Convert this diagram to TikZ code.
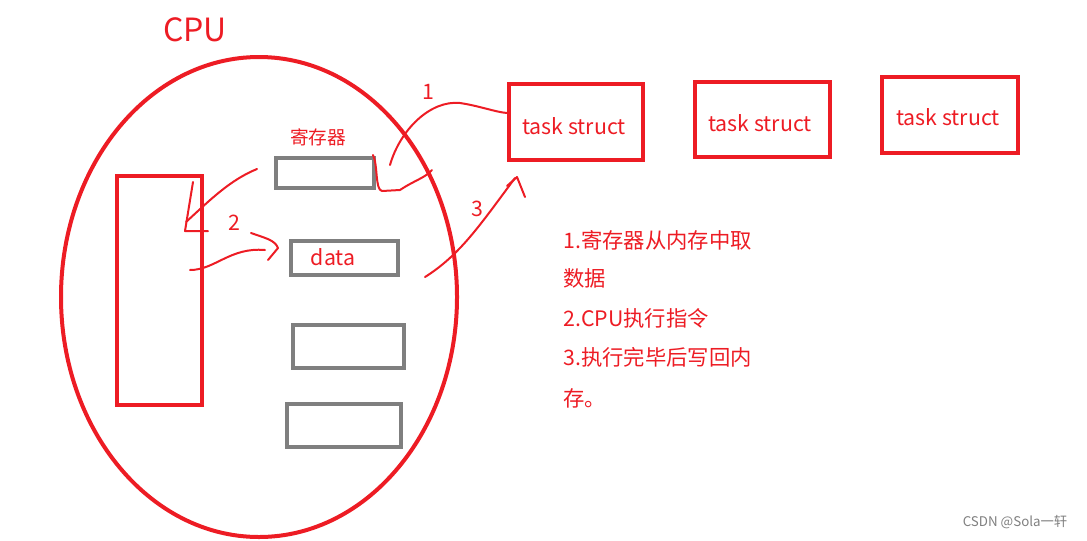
\documentclass[tikz,border=0pt]{standalone}
\usepackage{fontspec}
\setmainfont{Noto Sans CJK SC}
\definecolor{rd}{RGB}{237,28,36}
\definecolor{gy}{RGB}{127,127,127}
\begin{document}
\begin{tikzpicture}[x=0.75pt,y=-0.75pt,
  redbox/.style={draw=rd,line width=3pt},
  graybox/.style={draw=gy,line width=3pt},
  stroke/.style={draw=rd,line width=1.5pt,line cap=round,line join=round},
  lbl/.style={text=rd,font=\fontsize{16}{18}\selectfont,inner sep=0pt}]
\useasboundingbox (0,0) rectangle (1087,540);
\node[lbl,font=\fontsize{24}{26}\selectfont] (cpu) at (195,30) {CPU};
\draw[draw=rd,line width=3pt] (259,297) ellipse [x radius=198, y radius=240];
\node[redbox,minimum width=63.75pt,minimum height=171.75pt,anchor=north west,inner sep=0pt] (core) at (115,174) {};
\node[graybox,minimum width=73.5pt,minimum height=22.5pt,anchor=north west,inner sep=0pt] (r1) at (274,156) {};
\node[graybox,minimum width=80.25pt,minimum height=25.5pt,anchor=north west,inner sep=0pt] (r2) at (289,239) {};
\node[lbl] at (333,257) {data};
\node[graybox,minimum width=83.25pt,minimum height=32.25pt,anchor=north west,inner sep=0pt] (r3) at (291,323) {};
\node[graybox,minimum width=85.5pt,minimum height=32.25pt,anchor=north west,inner sep=0pt] (r4) at (285,402) {};
\node[lbl,font=\fontsize{14}{16}\selectfont] (reg) at (318,137) {寄存器};
\node[redbox,minimum width=100.5pt,minimum height=57pt,anchor=north west,inner sep=0pt] (t1) at (507,82) {};
\node[lbl] at (574,126) {task\ struct};
\node[redbox,minimum width=101.25pt,minimum height=56.25pt,anchor=north west,inner sep=0pt] (t2) at (693,80) {};
\node[lbl] at (760,123) {task\ struct};
\node[redbox,minimum width=102pt,minimum height=57pt,anchor=north west,inner sep=0pt] (t3) at (880,75) {};
\node[lbl] at (948,117) {task\ struct};
\node[lbl] (n1) at (428,92) {1};
\node[lbl] (n2) at (234,223) {2};
\node[lbl] (n3) at (477,209) {3};
\node[lbl,anchor=west] (l1) at (563,240) {1.寄存器从内存中取};
\node[lbl,anchor=west] (l2) at (563,278) {数据};
\node[lbl,anchor=west] (l3) at (563,318) {2.CPU执行指令};
\node[lbl,anchor=west] (l4) at (563,357) {3.执行完毕后写回内};
\node[lbl,anchor=west] (l5) at (563,398) {存。};
\node[text=gy,font=\fontsize{10}{12}\selectfont,anchor=east] (wm) at (1072,522) {CSDN @Sola一轩};
% strokes
\draw[stroke] (390,165) .. controls (400,130) and (430,100) .. (460,103) .. controls (480,106) and (495,112) .. (507,113);
\draw[stroke] (373,155) .. controls (378,165) and (375,190) .. (382,191) -- (400,190) .. controls (415,180) and (425,178) .. (432,170);
\draw[stroke] (425,277) .. controls (460,255) and (480,225) .. (515,178);
\draw[stroke] (507,186) -- (517,177) -- (525,197);
\draw[stroke] (257,169) .. controls (230,180) and (210,200) .. (186,222);
\draw[stroke] (193,182) -- (185,231) -- (208,231);
\draw[stroke] (190,270) .. controls (215,270) and (230,247) .. (265,250);
\draw[stroke] (251,233) .. controls (265,238) and (275,240) .. (278,248) -- (268,260);
\end{tikzpicture}
\end{document}
